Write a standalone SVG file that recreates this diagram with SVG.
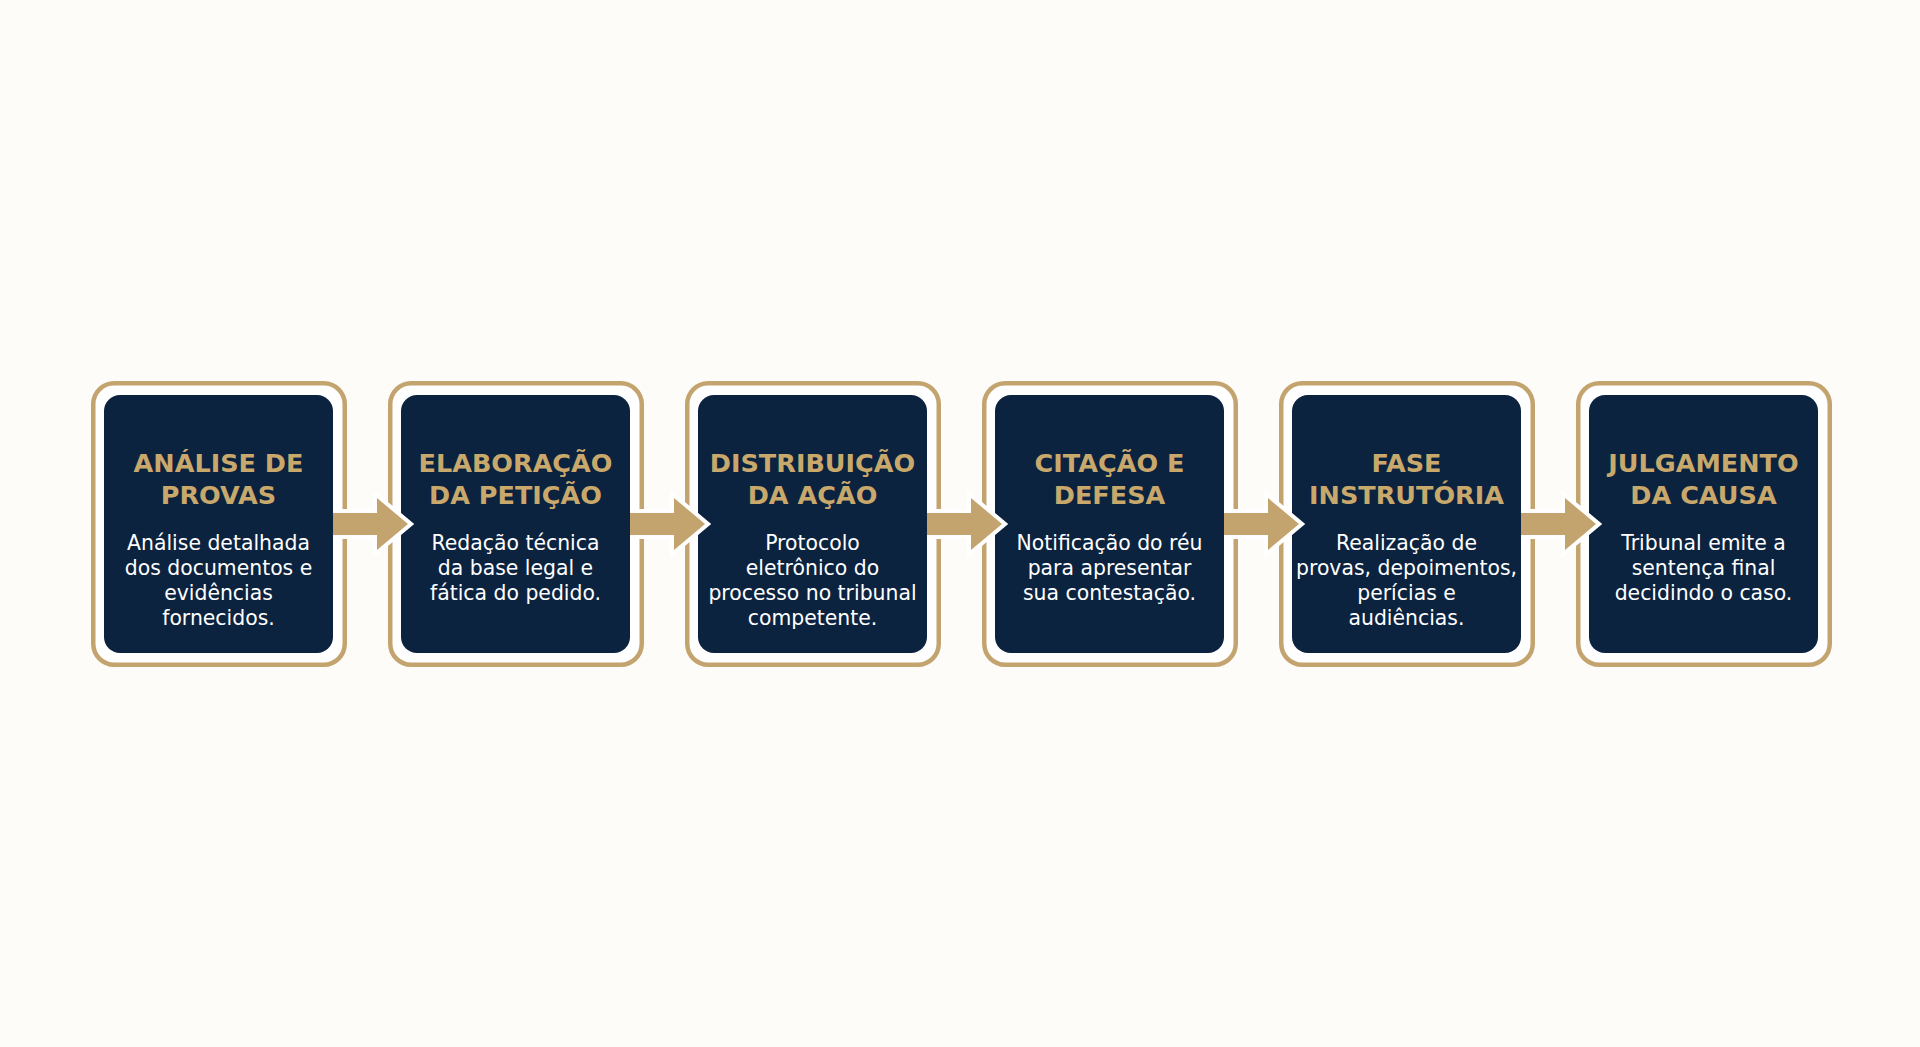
<svg xmlns="http://www.w3.org/2000/svg" width="1920" height="1047" viewBox="0 0 1920 1047">
<style>
.ring{fill:#ffffff;stroke:#c4a46e;stroke-width:4.5}
.card{fill:#0c2340}
.t{font-family:"DejaVu Sans",sans-serif;font-weight:bold;font-size:25.5px;fill:#c9a86c;text-anchor:middle}
.b{font-family:"DejaVu Sans",sans-serif;font-size:20.4px;fill:#ffffff;text-anchor:middle}
.arr{fill:#c4a46e;stroke:#ffffff;stroke-width:8;stroke-linejoin:miter;paint-order:stroke}
</style>
<rect width="1920" height="1047" fill="#fdfcf9"/>
<g id="node1">
<rect class="ring" x="93.25" y="383.25" width="251.5" height="281.5" rx="21"/>
<rect class="card" x="104" y="395" width="229" height="258" rx="16"/>
<text class="t" x="218.5" y="472">ANÁLISE DE</text>
<text class="t" x="218.5" y="504">PROVAS</text>
<text class="b" x="218.5" y="550">Análise detalhada</text>
<text class="b" x="218.5" y="575">dos documentos e</text>
<text class="b" x="218.5" y="600">evidências</text>
<text class="b" x="218.5" y="625">fornecidos.</text>
</g>
<g id="node2">
<rect class="ring" x="390.25" y="383.25" width="251.5" height="281.5" rx="21"/>
<rect class="card" x="401" y="395" width="229" height="258" rx="16"/>
<text class="t" x="515.5" y="472">ELABORAÇÃO</text>
<text class="t" x="515.5" y="504">DA PETIÇÃO</text>
<text class="b" x="515.5" y="550">Redação técnica</text>
<text class="b" x="515.5" y="575">da base legal e</text>
<text class="b" x="515.5" y="600">fática do pedido.</text>
</g>
<g id="node3">
<rect class="ring" x="687.25" y="383.25" width="251.5" height="281.5" rx="21"/>
<rect class="card" x="698" y="395" width="229" height="258" rx="16"/>
<text class="t" x="812.5" y="472">DISTRIBUIÇÃO</text>
<text class="t" x="812.5" y="504">DA AÇÃO</text>
<text class="b" x="812.5" y="550">Protocolo</text>
<text class="b" x="812.5" y="575">eletrônico do</text>
<text class="b" x="812.5" y="600">processo no tribunal</text>
<text class="b" x="812.5" y="625">competente.</text>
</g>
<g id="node4">
<rect class="ring" x="984.25" y="383.25" width="251.5" height="281.5" rx="21"/>
<rect class="card" x="995" y="395" width="229" height="258" rx="16"/>
<text class="t" x="1109.5" y="472">CITAÇÃO E</text>
<text class="t" x="1109.5" y="504">DEFESA</text>
<text class="b" x="1109.5" y="550">Notificação do réu</text>
<text class="b" x="1109.5" y="575">para apresentar</text>
<text class="b" x="1109.5" y="600">sua contestação.</text>
</g>
<g id="node5">
<rect class="ring" x="1281.25" y="383.25" width="251.5" height="281.5" rx="21"/>
<rect class="card" x="1292" y="395" width="229" height="258" rx="16"/>
<text class="t" x="1406.5" y="472">FASE</text>
<text class="t" x="1406.5" y="504">INSTRUTÓRIA</text>
<text class="b" x="1406.5" y="550">Realização de</text>
<text class="b" x="1406.5" y="575">provas, depoimentos,</text>
<text class="b" x="1406.5" y="600">perícias e</text>
<text class="b" x="1406.5" y="625">audiências.</text>
</g>
<g id="node6">
<rect class="ring" x="1578.25" y="383.25" width="251.5" height="281.5" rx="21"/>
<rect class="card" x="1589" y="395" width="229" height="258" rx="16"/>
<text class="t" x="1703.5" y="472">JULGAMENTO</text>
<text class="t" x="1703.5" y="504">DA CAUSA</text>
<text class="b" x="1703.5" y="550">Tribunal emite a</text>
<text class="b" x="1703.5" y="575">sentença final</text>
<text class="b" x="1703.5" y="600">decidindo o caso.</text>
</g>
<g id="connectors">
<path class="arr" d="M333,513 L377,513 L377,498 L408,524 L377,550 L377,535 L333,535"/>
<path class="arr" d="M630,513 L674,513 L674,498 L705,524 L674,550 L674,535 L630,535"/>
<path class="arr" d="M927,513 L971,513 L971,498 L1002,524 L971,550 L971,535 L927,535"/>
<path class="arr" d="M1224,513 L1268,513 L1268,498 L1299,524 L1268,550 L1268,535 L1224,535"/>
<path class="arr" d="M1521,513 L1565,513 L1565,498 L1596,524 L1565,550 L1565,535 L1521,535"/>
</g>
</svg>
